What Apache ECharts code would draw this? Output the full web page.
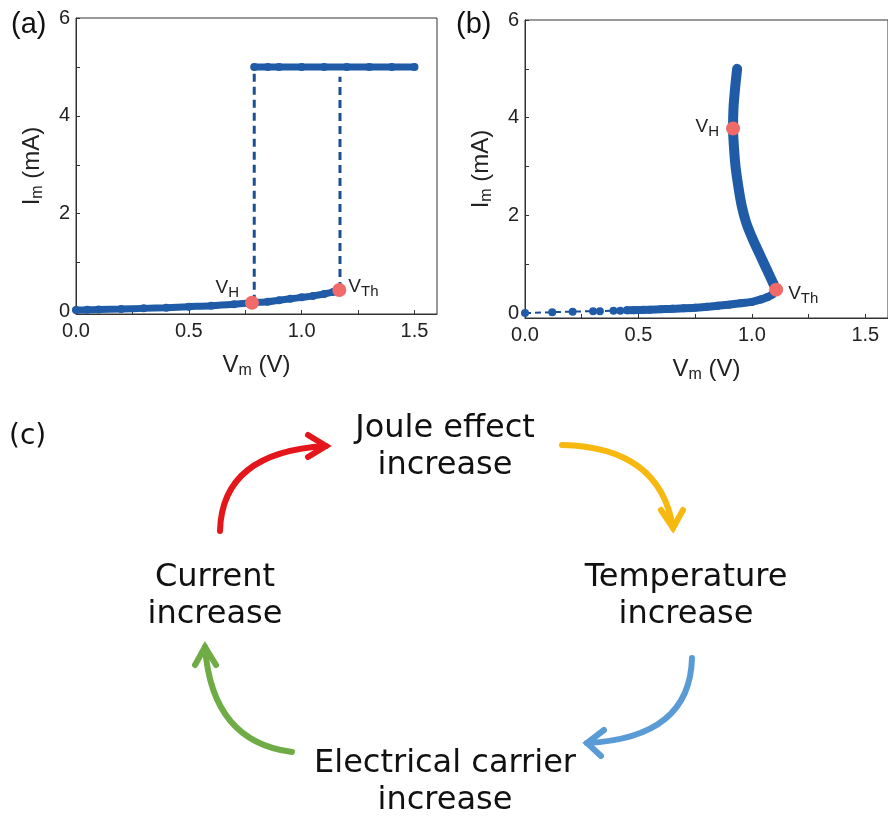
<!DOCTYPE html>
<html><head><meta charset="utf-8">
<script src="https://cdn.jsdelivr.net/npm/echarts@6/dist/echarts.min.js"></script>
<style>html,body{margin:0;padding:0;background:#fff}#c{width:888px;height:817px}</style>
</head><body><div id="c"></div>
<script>
// ---------- Panel (a) data ----------
const aLowV = [0, 0.05, 0.1, 0.2, 0.3, 0.4, 0.5, 0.6, 0.7, 0.78, 0.85, 0.9, 0.95, 1.0, 1.05, 1.1, 1.14, 1.167];
const aLowI = [0.03, 0.035, 0.04, 0.05, 0.065, 0.08, 0.1, 0.12, 0.15, 0.18, 0.2, 0.23, 0.26, 0.29, 0.32, 0.36, 0.4, 0.44];
const aHighV = [0.79, 0.85, 0.9, 1.0, 1.1, 1.2, 1.3, 1.4, 1.5];
const aHighI = [5, 5, 5, 5, 5, 5, 5, 5, 5];
const aJump1V = [0.79, 0.79];
const aJump1I = [0.18, 5];
const aJump2V = [1.17, 1.17];
const aJump2I = [0.44, 4.8];
const aMarkNames = ['H', 'Th'];
const aMarkV = [0.78, 1.167];
const aMarkI = [0.18, 0.44];

// ---------- Panel (b) data ----------
const bSparseV = [0, 0.12, 0.21, 0.3, 0.33, 0.39, 0.42, 0.45, 0.48, 0.52, 0.55, 0.6, 0.65, 0.7, 0.75, 0.8, 0.85, 0.9, 0.95, 1.0, 1.04, 1.07, 1.09, 1.107];
const bSparseI = [0, 0.02, 0.03, 0.04, 0.04, 0.05, 0.05, 0.06, 0.06, 0.07, 0.07, 0.08, 0.09, 0.1, 0.11, 0.13, 0.15, 0.17, 0.2, 0.23, 0.28, 0.33, 0.38, 0.48];
const bLowV = [0.45, 0.55, 0.65, 0.75, 0.85, 0.95, 1.0, 1.04, 1.07, 1.09, 1.107];
const bLowI = [0.06, 0.07, 0.09, 0.11, 0.15, 0.2, 0.23, 0.28, 0.33, 0.38, 0.48];
const bUpV = [1.107, 1.09, 1.065, 1.035, 1.005, 0.975, 0.955, 0.94, 0.928, 0.921, 0.917, 0.919, 0.926, 0.935];
const bUpI = [0.48, 0.65, 0.9, 1.2, 1.5, 1.85, 2.2, 2.6, 3.0, 3.4, 3.78, 4.2, 4.6, 5.0];
const bMarkNames = ['H', 'Th'];
const bMarkV = [0.917, 1.107];
const bMarkI = [3.78, 0.48];

// ---------- Axes ticks / labels ----------
const xTickVals = [0, 0.25, 0.5, 0.75, 1.0, 1.25, 1.5];
const xLabelVals = [0, 0.5, 1.0, 1.5];
const yTickVals = [0, 1, 2, 3, 4, 5, 6];
const yLabelVals = [0, 2, 4, 6];

// ---------- Panel (c) texts ----------
const cycleTexts = ['Joule effect\nincrease', 'Temperature\nincrease', 'Electrical carrier\nincrease', 'Current\nincrease'];

const zip = (xs, ys) => xs.map((x, i) => [x, ys[i]]);

const BLUE = '#1f5ba6';
const DASH = '#1c4f92';
const RED = '#f06a6a';
const FONT = '"Liberation Sans", Arial, sans-serif';
const subRich = {
  base: { fontSize: 24, fontFamily: FONT, color: '#222' },
  s: { fontSize: 16, fontFamily: FONT, color: '#222', padding: [11, 0, 0, 0] }
};
const markRich = {
  s: { fontSize: 15, fontFamily: FONT, color: '#222', padding: [10, 0, 0, 0] }
};

function xAxis(gi) {
  return {
    type: 'value', gridIndex: gi, min: 0, max: 1.6,
    axisLine: { show: true, onZero: false, lineStyle: { color: '#333', width: 1 } },
    axisTick: { show: true, inside: true, length: 4, customValues: xTickVals, lineStyle: { color: '#333' } },
    axisLabel: { customValues: xLabelVals, formatter: v => Number(v).toFixed(1), fontSize: 20, color: '#222', margin: 7, fontFamily: FONT },
    splitLine: { show: false },
    name: '{base|V}{s|m}{base| (V)}', nameLocation: 'middle', nameGap: 38,
    nameTextStyle: { rich: subRich, fontSize: 24, fontFamily: FONT, color: '#222' }
  };
}
function yAxis(gi, mn) {
  return {
    type: 'value', gridIndex: gi, min: mn, max: 6,
    axisLine: { show: true, onZero: false, lineStyle: { color: '#333', width: 1 } },
    axisTick: { show: true, inside: true, length: 4, customValues: yTickVals, lineStyle: { color: '#333' } },
    axisLabel: { customValues: yLabelVals, fontSize: 20, color: '#222', margin: 6, fontFamily: FONT },
    splitLine: { show: false },
    name: '{base|I}{s|m}{base| (mA)}', nameLocation: 'middle', nameGap: 30, nameRotate: 90,
    nameTextStyle: { rich: subRich, fontSize: 24, fontFamily: FONT, color: '#222' }
  };
}

function markSeries(gi, names, vs, is, posCfg) {
  return {
    type: 'scatter', xAxisIndex: gi, yAxisIndex: gi, z: 10,
    symbolSize: 14, itemStyle: { color: RED, opacity: 1 },
    data: vs.map((v, i) => ({
      value: [v, is[i]],
      label: Object.assign({
        show: true, formatter: 'V{s|' + names[i] + '}', fontSize: 19, fontFamily: FONT, color: '#222', rich: markRich
      }, posCfg[i])
    }))
  };
}

function arrow(color, p0, cp, p1, wingA, wingB) {
  return {
    type: 'group',
    children: [
      { type: 'bezierCurve', shape: { x1: p0[0], y1: p0[1], cpx1: cp[0], cpy1: cp[1], x2: p1[0], y2: p1[1] },
        style: { stroke: color, lineWidth: 6, fill: null, lineCap: 'round' } },
      { type: 'polyline', shape: { points: [wingA, p1, wingB] },
        style: { stroke: color, lineWidth: 6, fill: null, lineCap: 'round', lineJoin: 'miter' } }
    ]
  };
}

const CFONT = '"DejaVu Sans", sans-serif';
function ctext(t, x, y) {
  return { type: 'text', x: x, y: y, style: { text: t, fontSize: 32, lineHeight: 37, fontFamily: CFONT, fill: '#111', textAlign: 'center', textVerticalAlign: 'middle' } };
}

const chart = echarts.init(document.getElementById('c'), null, { renderer: 'canvas' });
chart.setOption({
  animation: false,
  backgroundColor: '#fff',
  grid: [
    { left: 76, top: 18, width: 361, height: 296, show: true, borderColor: '#333', borderWidth: 1, backgroundColor: 'transparent' },
    { left: 525, top: 20, width: 368, height: 298, show: true, borderColor: '#333', borderWidth: 1, backgroundColor: 'transparent' }
  ],
  xAxis: [xAxis(0), xAxis(1)],
  yAxis: [yAxis(0, -0.05), yAxis(1, -0.1)],
  series: [
    { type: 'line', xAxisIndex: 0, yAxisIndex: 0, data: zip(aJump1V, aJump1I), symbol: 'none', lineStyle: { color: DASH, width: 3, type: [8, 5] }, z: 2 },
    { type: 'line', xAxisIndex: 0, yAxisIndex: 0, data: zip(aJump2V, aJump2I), symbol: 'none', lineStyle: { color: DASH, width: 3, type: [8, 5] }, z: 2 },
    { type: 'line', xAxisIndex: 0, yAxisIndex: 0, data: zip(aLowV, aLowI), symbol: 'circle', symbolSize: 8, itemStyle: { color: BLUE }, lineStyle: { color: BLUE, width: 7, cap: 'round' }, smooth: 0.3, z: 3 },
    { type: 'line', xAxisIndex: 0, yAxisIndex: 0, data: zip(aHighV, aHighI), symbol: 'circle', symbolSize: 8, itemStyle: { color: BLUE }, lineStyle: { color: BLUE, width: 7, cap: 'round' }, z: 3 },
    markSeries(0, aMarkNames, aMarkV, aMarkI, [
      { position: 'left', distance: 6, offset: [0, -15] },
      { position: 'right', distance: 2, offset: [0, -3] }
    ]),
    { type: 'line', xAxisIndex: 1, yAxisIndex: 1, data: zip(bSparseV, bSparseI), symbol: 'circle', symbolSize: 8, itemStyle: { color: BLUE }, lineStyle: { color: DASH, width: 2, type: [6, 4] }, z: 2 },
    { type: 'line', xAxisIndex: 1, yAxisIndex: 1, data: zip(bLowV, bLowI), symbol: 'none', lineStyle: { color: BLUE, width: 8, cap: 'round' }, smooth: 0.3, z: 3 },
    { type: 'line', xAxisIndex: 1, yAxisIndex: 1, data: zip(bUpV, bUpI), symbol: 'none', lineStyle: { color: BLUE, width: 10, cap: 'round', join: 'round' }, smooth: 0.3, z: 3 },
    markSeries(1, bMarkNames, bMarkV, bMarkI, [
      { position: 'left', distance: 7, offset: [0, -2] },
      { position: 'right', distance: 5, offset: [0, 4] }
    ])
  ],
  graphic: [
    { type: 'text', x: 11, y: 25, style: { text: '(a)', fontSize: 29, fontFamily: FONT, fill: '#111', textVerticalAlign: 'middle' } },
    { type: 'text', x: 456, y: 25, style: { text: '(b)', fontSize: 29, fontFamily: FONT, fill: '#111', textVerticalAlign: 'middle' } },
    { type: 'text', x: 9, y: 437, style: { text: '(c)', fontSize: 28, fontFamily: CFONT, fill: '#111', textVerticalAlign: 'middle' } },
    ctext(cycleTexts[0], 445, 447),
    ctext(cycleTexts[1], 686, 596),
    ctext(cycleTexts[2], 445, 782),
    ctext(cycleTexts[3], 215, 596),
    arrow('#e5161b', [220, 531], [222, 452], [326, 446], [308, 435], [308, 457]),
    arrow('#f7b90f', [562, 445], [660, 447], [673, 528], [661, 510], [683, 510]),
    arrow('#5b9bd5', [692, 658], [690, 738], [587, 743], [604, 730], [601, 756]),
    arrow('#6fac46', [292, 752], [212, 742], [205, 647], [195, 665], [216, 665])
  ]
});
</script></body></html>
